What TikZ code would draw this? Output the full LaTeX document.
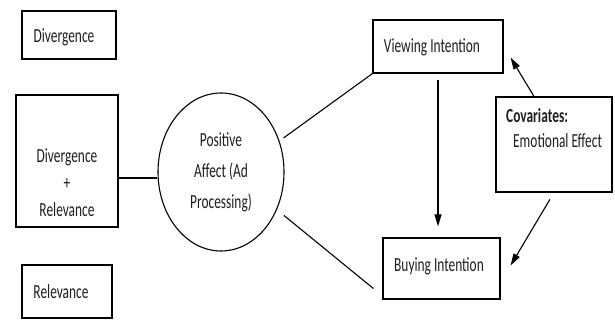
\documentclass[tikz,border=0pt]{standalone}
\usepackage{fontspec}
\setmainfont{Carlito}[FakeStretch=0.67]
\usetikzlibrary{shapes.geometric,arrows.meta}
\begin{document}
\begin{tikzpicture}[x=1pt,y=-1pt,
  box/.style={draw, line width=1.1pt, inner sep=0pt},
  txt/.style={font=\fontsize{20}{27}\selectfont, text=black!88, inner sep=0pt, align=center},
  conn/.style={line width=1.1pt},
  arr/.style={line width=1.1pt, -{Triangle[length=12pt,width=7pt]}}]
\useasboundingbox (0,0) rectangle (615,320);
% left boxes
\node[box, minimum width=94pt, minimum height=48pt] (div) at (69,35) {};
\node[txt] (divt) at (64,37) {Divergence};
\node[box, minimum width=102pt, minimum height=132pt] (dr) at (67,161) {};
\node[txt] (drt) at (67,183) {Divergence\\+\\Relevance};
\node[box, minimum width=90pt, minimum height=53pt] (rel) at (67,291.5) {};
\node[txt] (relt) at (61,292) {Relevance};
% ellipse
\node[draw, ellipse, line width=1.1pt, minimum width=126pt, minimum height=158pt, inner sep=0pt] (pa) at (221,172) {};
\node[txt, font=\fontsize{20}{31}\selectfont] (pat) at (221,172) {Positive\\Affect (Ad\\Processing)};
% right boxes
\node[box, minimum width=130pt, minimum height=53pt] (vi) at (438,46.5) {};
\node[txt] (vit) at (432,47) {Viewing Intention};
\node[box, minimum width=117pt, minimum height=61pt] (bi) at (441.5,268.5) {};
\node[txt] (bit) at (439,266) {Buying Intention};
\node[box, minimum width=116pt, minimum height=95pt] (cov) at (554,144.5) {};
\node[txt, align=left, anchor=north west, font=\fontsize{20}{25}\selectfont] (covt) at (506,108) {\textbf{Covariates:}\\\hspace{7pt}Emotional Effect};
% connectors
\coordinate (ly) at (0,178);
\draw[conn] (dr.east |- ly) -- (pa.west |- ly);
\draw[conn, shorten <=5pt] (pa.28) -- (vi.south west);
\draw[conn, shorten <=9pt] (pa.-34) -- ([xshift=-9pt,yshift=11pt]bi.south west);
\draw[arr, shorten <=6pt, shorten >=11pt] (vi.south) -- (vi.south |- bi.north);
\draw[arr] ([xshift=-20pt]cov.north) -- ([xshift=7pt,yshift=16pt]vi.south east);
\draw[arr, shorten <=8pt] (cov.south) -- ([xshift=10pt,yshift=3pt]bi.east);
\end{tikzpicture}
\end{document}
